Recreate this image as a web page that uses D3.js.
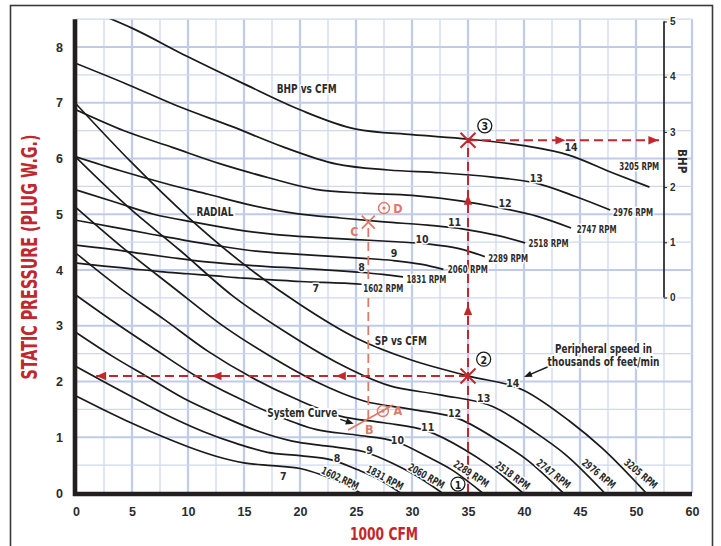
<!DOCTYPE html>
<html><head><meta charset="utf-8">
<script src="https://cdn.jsdelivr.net/npm/d3@7/dist/d3.min.js"></script>
<style>
body{margin:0;background:#fff;}
svg{display:block;font-family:"Liberation Sans Narrow","Arial Narrow","DejaVu Sans Condensed","Roboto Condensed",Arial,sans-serif;font-weight:bold;}
</style></head><body>
<svg id="chart" width="721" height="546"></svg>
<script>
// ---------------- DATA ----------------
const rpms = [1602, 1831, 2060, 2289, 2518, 2747, 2976, 3205];
const speeds = ["7", "8", "9", "10", "11", "12", "13", "14"];

// Static pressure curves: [1000 CFM, in. W.G.]
const sp1602 = [[0,1.74],[2.5,1.49],[5,1.25],[7.5,1.03],[10,0.83],[12.5,0.66],[15,0.54],[17.5,0.49],[20,0.44],[22,0.32],[23.5,0.20],[25.4,0]];
const sp1831 = [[0,2.27],[2.9,1.95],[5.7,1.65],[8.6,1.35],[11.4,1.10],[14.3,0.89],[17.1,0.73],[20.0,0.67],[22.9,0.59],[25.1,0.42],[26.9,0.26],[29.0,0]];
const sp2060 = [[0,2.88],[3.2,2.46],[6.4,2.08],[9.6,1.70],[12.9,1.39],[16.1,1.12],[19.3,0.93],[22.5,0.84],[25.7,0.74],[28.3,0.53],[30.2,0.33],[32.7,0]];
const sp2289 = [[0,3.55],[3.6,3.04],[7.1,2.57],[10.7,2.10],[14.3,1.72],[17.9,1.39],[21.4,1.14],[25.0,1.04],[28.6,0.92],[31.4,0.65],[33.6,0.41],[36.3,0]];
const sp2518 = [[0,4.30],[3.9,3.68],[7.9,3.11],[11.8,2.54],[15.7,2.07],[19.7,1.68],[23.6,1.38],[27.5,1.26],[31.4,1.11],[34.6,0.79],[36.9,0.49],[39.9,0]];
const sp2747 = [[0,5.12],[4.3,4.38],[8.6,3.70],[12.9,3.03],[17.2,2.47],[21.4,2.00],[25.7,1.65],[30.0,1.50],[34.3,1.32],[37.7,0.94],[40.3,0.59],[43.5,0]];
const sp2976 = [[0,6.02],[4.6,5.14],[9.3,4.35],[13.9,3.55],[18.6,2.90],[23.2,2.35],[27.9,1.93],[32.5,1.76],[37.2,1.55],[40.9,1.10],[43.7,0.69],[47.2,0]];
const sp3205 = [[0,6.98],[5,5.92],[10,4.95],[15,4.10],[20,3.38],[25,2.78],[30,2.38],[35,2.10],[40,1.84],[44,1.30],[47,0.80],[50.9,0]];

// Brake horsepower curves: [1000 CFM, BHP]
const bhp1602 = [[0,0.625],[2.5,0.57],[5,0.52],[7.5,0.47],[10,0.43],[12.5,0.39],[15,0.35],[17.5,0.32],[20,0.29],[22,0.275],[24,0.26],[25.5,0.24]];
const bhp1831 = [[0,0.95],[2.9,0.88],[5.7,0.80],[8.6,0.72],[11.4,0.65],[14.3,0.60],[17.1,0.56],[20.0,0.53],[22.9,0.49],[25.1,0.46],[27.4,0.42],[29.2,0.375]];
const bhp2060 = [[0,1.40],[3.2,1.28],[6.4,1.16],[9.6,1.04],[12.9,0.93],[16.1,0.84],[19.3,0.79],[22.5,0.75],[25.7,0.71],[28.3,0.67],[30.9,0.60],[32.8,0.51]];
const bhp2289 = [[0,1.95],[3.6,1.72],[7.1,1.50],[10.7,1.36],[14.3,1.23],[17.9,1.14],[21.4,1.09],[25.0,1.05],[28.6,1.01],[31.4,0.97],[34.3,0.88],[36.5,0.74]];
const bhp2518 = [[0,2.55],[3.9,2.30],[7.9,2.07],[11.8,1.87],[15.7,1.67],[19.7,1.52],[23.6,1.44],[27.5,1.37],[31.4,1.31],[34.6,1.24],[37.7,1.12],[40.1,0.99]];
const bhp2747 = [[0,3.40],[4.3,3.02],[8.6,2.72],[12.9,2.42],[17.2,2.17],[21.4,1.96],[25.7,1.89],[30.0,1.85],[34.3,1.75],[37.7,1.63],[41.2,1.47],[44.2,1.26]];
const bhp2976 = [[0,4.24],[4.6,3.86],[9.3,3.45],[13.9,3.10],[18.6,2.72],[23.2,2.42],[27.9,2.31],[32.5,2.26],[37.2,2.18],[40.9,2.08],[44.6,1.83],[47.7,1.585]];
const bhp3205 = [[0,5.30],[5,4.88],[10,4.36],[15,3.87],[20,3.40],[25,3.05],[30,2.95],[35,2.87],[40,2.75],[44,2.58],[48,2.25],[51.2,2.0]];

const spCurves = [sp1602, sp1831, sp2060, sp2289, sp2518, sp2747, sp2976, sp3205];
const bhpCurves = [bhp1602, bhp1831, bhp2060, bhp2289, bhp2518, bhp2747, bhp2976, bhp3205];

// Tick labels
const xTickValues = [0,5,10,15,20,25,30,35,40,45,50,55];
const xTickLabels = ["0","5","10","15","20","25","30","35","40","45","50","60"];
const yTickValues = [0,1,2,3,4,5,6,7,8];
const bhpTickValues = [0,1,2,3,4,5];

// Label anchors (data units)
const spNumPos = [[18.5,0.31],[23.3,0.63],[26.2,0.78],[28.7,0.95],[31.4,1.19],[33.8,1.43],[36.4,1.70],[39.0,1.98]];
const spRpmPos = [[23.6,0.27,25],[27.6,0.28,28],[31.3,0.31,30],[35.3,0.35,33],[39.0,0.32,36],[42.65,0.35,38],[46.7,0.35,39],[50.45,0.35,40]];
const bhpNumPos = [[21.4,0.17],[25.5,0.56],[28.4,0.80],[30.9,1.06],[33.8,1.37],[38.3,1.72],[41.1,2.17],[44.2,2.73]];
const bhpRpmPos = [[25.65,0.167],[29.5,0.335],[33.2,0.511],[36.8,0.71],[40.4,0.982],[44.7,1.236],[47.95,1.543],[48.5,2.38]];

// Operating points
const point2 = [35, 2.10];      // SP
const point3 = [35, 2.85];      // BHP
const pointA = [27.4, 1.47], pointB = [26.1, 1.33], pointC = [26.1, 4.86], pointD = [27.5, 5.11];
const systemCurve = [[24.3, 1.13], [28.3, 1.58]];

// ---------------- DRAW ----------------
const RED = "#c1272d", SALMON = "#e07a68", INK = "#1a1a1a", TXT = "#2b2b2b";
const svg = d3.select("#chart");
const x = d3.scaleLinear().domain([0, 55]).range([76, 692]);
const y = d3.scaleLinear().domain([0, 8]).range([493, 47]);
const yB = d3.scaleLinear().domain([0, 5]).range([297.5, 21.5]);
const yTop = y(8.5);

svg.append("rect").attr("width", 721).attr("height", 546).attr("fill", "#fff");
svg.append("defs").append("clipPath").attr("id", "plot")
  .append("rect").attr("x", x(0)).attr("y", yTop).attr("width", x(55) - x(0)).attr("height", y(0) - yTop);

// grid
const grid = svg.append("g");
d3.range(0, 55.01, 2.5).forEach(v => {
  const major = v % 5 === 0;
  grid.append("line").attr("x1", x(v)).attr("x2", x(v)).attr("y1", yTop).attr("y2", y(0))
    .attr("stroke", major ? "#c0cbe9" : "#cfd8f0").attr("stroke-width", major ? 2.2 : 1.3);
});
d3.range(0, 8.51, 0.5).forEach(v => {
  const major = v % 1 === 0;
  grid.append("line").attr("x1", x(0)).attr("x2", x(55)).attr("y1", y(v)).attr("y2", y(v))
    .attr("stroke", major ? "#c0cbe9" : "#cfd8f0").attr("stroke-width", major ? 2.2 : 1.3);
});

// curves
const curves = svg.append("g").attr("clip-path", "url(#plot)");
const spLine = d3.line().x(d => x(d[0])).y(d => y(d[1])).curve(d3.curveMonotoneX);
const bhpLine = d3.line().x(d => x(d[0])).y(d => yB(d[1])).curve(d3.curveMonotoneX);
spCurves.forEach(c => curves.append("path").attr("d", spLine(c)).attr("fill", "none").attr("stroke", INK).attr("stroke-width", 1.7));
bhpCurves.forEach(c => curves.append("path").attr("d", bhpLine(c)).attr("fill", "none").attr("stroke", INK).attr("stroke-width", 1.7));

// BHP axis line
svg.append("line").attr("x1", x(52.5)).attr("x2", x(52.5)).attr("y1", yB(5)).attr("y2", yB(0))
  .attr("stroke", INK).attr("stroke-width", 1.6);
const bAxis = svg.append("g").attr("transform", `translate(${x(52.5)},0)`)
  .call(d3.axisRight(yB).tickValues(bhpTickValues).tickSize(3).tickPadding(3).tickFormat(d3.format("d")));
bAxis.select(".domain").remove();
bAxis.selectAll("line").attr("stroke", INK);
bAxis.selectAll("text").attr("font-size", 10).attr("fill", TXT).attr("font-family", null)
  .attr("stroke", "#fff").attr("stroke-width", 3).attr("paint-order", "stroke");
svg.append("text").text("BHP").attr("transform", `translate(${x(54.1)},${yB(2.47)}) rotate(90)`)
  .attr("text-anchor", "middle").attr("dominant-baseline", "central").attr("font-size", 11.5).attr("fill", TXT);

// helper for labels with halo
function lab(txt, px, py, size, opts = {}) {
  const t = svg.append("text").text(txt).attr("x", px).attr("y", py)
    .attr("font-size", size).attr("fill", opts.fill || TXT)
    .attr("text-anchor", opts.anchor || "middle").attr("dominant-baseline", "central")
    .attr("stroke", "#fff").attr("stroke-width", opts.halo == null ? 3 : opts.halo)
    .attr("stroke-linejoin", "round").attr("paint-order", "stroke");
  if (opts.len) t.attr("textLength", opts.len).attr("lengthAdjust", "spacingAndGlyphs");
  if (opts.rot) t.attr("transform", `rotate(${opts.rot},${px},${py})`);
  return t;
}

// dashed guide lines
function dashed(pts, color, w) {
  svg.append("path").attr("d", d3.line()(pts)).attr("fill", "none").attr("stroke", color)
    .attr("stroke-width", w).attr("stroke-dasharray", "9,5");
}
function arrow(px, py, dir, color) {
  const L = 10, Hh = 4.2;
  const pts = dir === "left" ? [[px, py], [px + L, py - Hh], [px + L, py + Hh]]
    : dir === "right" ? [[px, py], [px - L, py - Hh], [px - L, py + Hh]]
    : [[px, py], [px - Hh, py + L], [px + Hh, py + L]];
  svg.append("path").attr("d", d3.line()(pts) + "Z").attr("fill", color);
}
function cross(px, py, r, color, w) {
  svg.append("path").attr("d", `M${px - r},${py - r}L${px + r},${py + r}M${px - r},${py + r}L${px + r},${py - r}`)
    .attr("stroke", color).attr("stroke-width", w).attr("fill", "none");
}
function circled(txt, px, py) {
  svg.append("circle").attr("cx", px).attr("cy", py).attr("r", 7).attr("fill", "#fff").attr("stroke", INK).attr("stroke-width", 1.3);
  svg.append("text").text(txt).attr("x", px).attr("y", py + 0.5).attr("text-anchor", "middle").attr("dominant-baseline", "central")
    .attr("font-size", 10.5).attr("fill", INK);
}

// salmon system-curve work
dashed([[x(pointC[0]), y(pointC[1]) + 6], [x(pointB[0]), y(pointB[1])]], SALMON, 1.8);
svg.append("line").attr("x1", x(systemCurve[0][0])).attr("y1", y(systemCurve[0][1]))
  .attr("x2", x(systemCurve[1][0])).attr("y2", y(systemCurve[1][1])).attr("stroke", SALMON).attr("stroke-width", 1.8);
cross(x(pointC[0]), y(pointC[1]), 6.5, SALMON, 1.8);
[pointA, pointD].forEach(p => {
  svg.append("circle").attr("cx", x(p[0])).attr("cy", y(p[1])).attr("r", 5.5).attr("fill", "none").attr("stroke", SALMON).attr("stroke-width", 1.5);
  svg.append("circle").attr("cx", x(p[0])).attr("cy", y(p[1])).attr("r", 1.6).attr("fill", SALMON);
});
lab("A", x(pointA[0]) + 15, y(pointA[1]) - 1, 12.5, { fill: SALMON, halo: 0 });
lab("B", x(pointB[0]) + 1, y(pointB[1]) + 11, 12.5, { fill: SALMON, halo: 0 });
lab("C", x(pointC[0]) - 14, y(pointC[1]) + 9, 12.5, { fill: SALMON, halo: 0 });
lab("D", x(pointD[0]) + 14, y(pointD[1]), 12.5, { fill: SALMON, halo: 0 });

// red operating lines
const p2x = x(point2[0]), p2y = y(point2[1]), p3y = yB(point3[1]);
dashed([[p2x, y(0)], [p2x, p3y]], RED, 2);
dashed([[p2x, p2y], [x(1.8), p2y]], RED, 2);
dashed([[p2x, p3y], [x(52.3), p3y]], RED, 2);
[1.8, 12.1, 23.2].forEach(v => arrow(x(v), p2y, "left", RED));
[43.7, 52.0].forEach(v => arrow(x(v), p3y, "right", RED));
[5.35, 3.37].forEach(v => arrow(p2x, y(v), "up", RED));
cross(p2x, p2y, 7.5, RED, 2);
cross(p2x, p3y, 7.5, RED, 2);
circled("1", x(34.1), y(0.16));
circled("2", x(36.4), y(2.40));
circled("3", x(36.5), yB(3.11));

// curve labels
spNumPos.forEach((p, i) => lab(speeds[i], x(p[0]), y(p[1]), 10.5));
spRpmPos.forEach((p, i) => lab(rpms[i] + " RPM", x(p[0]), y(p[1]), 10.5, { rot: p[2], len: 40 }));
bhpNumPos.forEach((p, i) => lab(speeds[i], x(p[0]), yB(p[1]), 10.5));
bhpRpmPos.forEach((p, i) => lab(rpms[i] + " RPM", x(p[0]), yB(p[1]), 10.5, { anchor: "start", len: 40 }));

// annotations
lab("BHP vs CFM", x(20.6), y(7.25), 12.5, { len: 60 });
lab("SP vs CFM", x(29.0), y(2.73), 13, { len: 52 });
lab("RADIAL", x(12.4), y(5.05), 12.5, { halo: 4, len: 37 });
lab("System Curve", x(20.2), y(1.44), 12.5, { halo: 4, len: 70 });
lab("Peripheral speed in", x(47.1), y(2.60), 13, { halo: 4, len: 97 });
lab("thousands of feet/min", x(47.1), y(2.355), 13, { halo: 4, len: 112 });
function blackArrow(a, b) {
  const x1 = x(a[0]), y1 = y(a[1]), x2 = x(b[0]), y2 = y(b[1]);
  const ang = Math.atan2(y2 - y1, x2 - x1), L = 8, Hh = 3.2;
  svg.append("line").attr("x1", x1).attr("y1", y1).attr("x2", x2 - Math.cos(ang) * L * 0.7).attr("y2", y2 - Math.sin(ang) * L * 0.7)
    .attr("stroke", INK).attr("stroke-width", 1.4);
  const p = [[x2, y2],
    [x2 - L * Math.cos(ang) + Hh * Math.sin(ang), y2 - L * Math.sin(ang) - Hh * Math.cos(ang)],
    [x2 - L * Math.cos(ang) - Hh * Math.sin(ang), y2 - L * Math.sin(ang) + Hh * Math.cos(ang)]];
  svg.append("path").attr("d", d3.line()(p) + "Z").attr("fill", INK);
}
blackArrow([42.1, 2.26], [40.0, 2.08]);
blackArrow([23.6, 1.32], [24.8, 1.24]);

// main axes
const xAxis = svg.append("g").attr("transform", `translate(0,${y(0)})`)
  .call(d3.axisBottom(x).tickValues(xTickValues).tickSize(0).tickPadding(14).tickFormat((d, i) => xTickLabels[i]));
xAxis.select(".domain").remove();
xAxis.selectAll("text").attr("font-size", 12.5).attr("fill", TXT).attr("font-family", null);
const yAxis = svg.append("g").attr("transform", `translate(${x(0)},0)`)
  .call(d3.axisLeft(y).tickValues(yTickValues).tickSize(0).tickPadding(13));
yAxis.select(".domain").remove();
yAxis.selectAll("text").attr("font-size", 12.5).attr("fill", TXT).attr("font-family", null);

svg.append("line").attr("x1", x(0) - 1).attr("x2", x(0) - 1).attr("y1", yTop).attr("y2", y(0) + 3)
  .attr("stroke", "#231f20").attr("stroke-width", 4.6);
svg.append("line").attr("x1", x(0) - 3).attr("x2", x(55)).attr("y1", y(0) + 1).attr("y2", y(0) + 1)
  .attr("stroke", "#231f20").attr("stroke-width", 4.6);

// titles
svg.append("text").text("STATIC PRESSURE (PLUG W.G.)")
  .attr("transform", `translate(37,257) rotate(-90)`).attr("text-anchor", "middle")
  .attr("font-size", 20.5).attr("fill", RED).attr("textLength", 245).attr("lengthAdjust", "spacingAndGlyphs");
svg.append("text").text("1000 CFM").attr("x", 384).attr("y", 540).attr("text-anchor", "middle")
  .attr("font-size", 18).attr("fill", RED).attr("textLength", 68).attr("lengthAdjust", "spacingAndGlyphs");

// frame
svg.append("rect").attr("x", 10.5).attr("y", 5.5).attr("width", 702).attr("height", 560)
  .attr("fill", "none").attr("stroke", "#3a3a3a").attr("stroke-width", 1.6);
</script>
</body></html>
